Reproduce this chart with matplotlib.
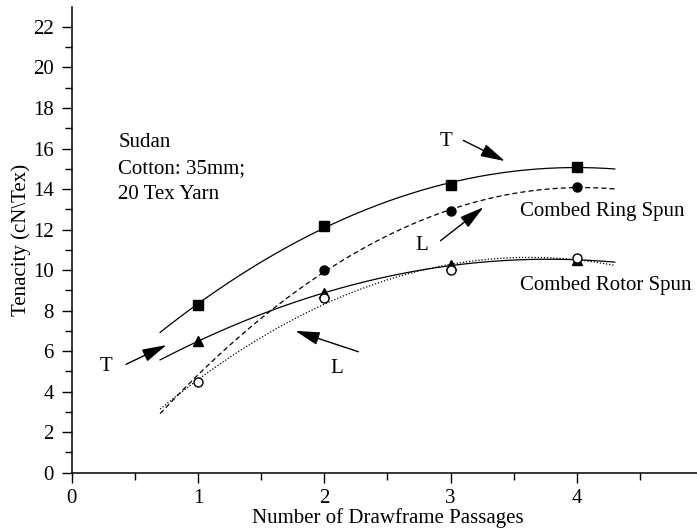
import numpy as np
import matplotlib.pyplot as plt

plt.rcParams["font.family"] = ["Liberation Serif", "DejaVu Serif"]
plt.rcParams["font.size"] = 15

passages = [1, 2, 3, 4]
ring_t = [8.3, 12.2, 14.2, 15.1]
ring_l = [4.8, 10.0, 12.9, 14.1]   # first point sits under the open circle
rotor_t = [6.5, 8.85, 10.25, 10.5]
rotor_l = [4.5, 8.6, 10.0, 10.6]

fit_range = (0.7, 4.3)


def trend(x, y):
    coef = np.polyfit(x, y, 2)
    xs = np.linspace(fit_range[0], fit_range[1], 200)
    return xs, np.polyval(coef, xs)


fig = plt.figure(figsize=(6.97, 5.29), dpi=100)
ax = fig.add_axes([0.1029, 0.1064, 0.906, 0.881])

xs, ys = trend(passages, ring_t)
ax.plot(xs, ys, color="black", lw=0.9)
xs, ys = trend(passages, ring_l)
ax.plot(xs, ys, color="black", lw=0.9, ls=(0, (4, 2.5)))
xs, ys = trend(passages, rotor_t)
ax.plot(xs, ys, color="black", lw=0.9)
xs, ys = trend(passages, rotor_l)
ax.plot(xs, ys, color="black", lw=0.9, ls=(0, (1, 1.5)))

ax.plot(passages[1:], ring_l[1:], "o", color="black", ms=6.5, ls="none")
ax.plot(passages, ring_t, "s", color="black", ms=7.5, ls="none")
ax.plot(passages, rotor_t, "^", color="black", ms=7.5, ls="none")
ax.plot(passages, rotor_l, "o", mfc="white", mec="black", mew=1, ms=6.5, ls="none")

arrow = dict(arrowstyle="-|>,head_length=0.75,head_width=0.2", color="black",
             lw=1, mutation_scale=20, shrinkA=0, shrinkB=0)
ax.annotate("", xy=(0.75, 6.3), xytext=(0.43, 5.35), arrowprops=arrow)
ax.text(0.27, 5.26, "T", ha="center", va="center")
ax.annotate("", xy=(1.77, 7.0), xytext=(2.27, 5.97), arrowprops=arrow)
ax.text(2.1, 5.15, "L", ha="center", va="center")
ax.annotate("", xy=(3.43, 15.38), xytext=(3.1, 16.4), arrowprops=arrow)
ax.text(2.96, 16.33, "T", ha="center", va="center")
ax.annotate("", xy=(3.26, 13.1), xytext=(2.92, 11.45), arrowprops=arrow)
ax.text(2.77, 11.23, "L", ha="center", va="center")

ax.text(3.55, 12.9, "Combed Ring Spun", ha="left", va="center")
ax.text(3.55, 9.26, "Combed Rotor Spun", ha="left", va="center")
ax.text(0.37, 16.75, "Sudan\nCotton: 35mm;\n20 Tex Yarn", ha="left", va="top",
        linespacing=1.5)

ax.set_xlim(0, 5)
ax.set_ylim(0, 23)
ax.set_xticks([0, 1, 2, 3, 4])
ax.set_xticks([0.5, 1.5, 2.5, 3.5, 4.5], minor=True)
ax.set_yticks(range(0, 23, 2))
ax.set_yticks(range(1, 23, 2), minor=True)
ax.tick_params(which="major", length=7, width=1, direction="out")
ax.tick_params(which="minor", length=5, width=1, direction="out")
ax.tick_params(axis="y", which="major", pad=6)
ax.tick_params(axis="x", which="major", pad=4.5)
for side in ["top", "right"]:
    ax.spines[side].set_visible(False)
for side in ["left", "bottom"]:
    ax.spines[side].set_linewidth(1.1)

ax.set_xlabel("Number of Drawframe Passages", labelpad=0)
ax.set_ylabel("Tenacity (cN\\Tex)", labelpad=1)

fig.savefig("out.png", dpi=100)
